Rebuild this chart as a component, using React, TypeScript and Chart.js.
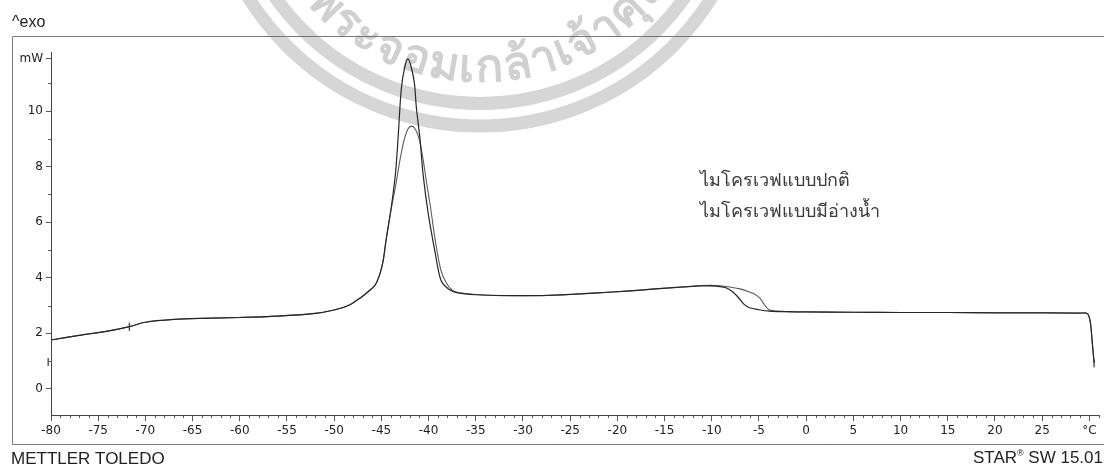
import React, { useEffect, useRef } from "react";
import { Chart, registerables } from "chart.js";

Chart.register(...registerables);

// DSC heat-flow curves (temperature in °C, heat flow in mW)
const seriesNames = ["ไมโครเวฟแบบปกติ", "ไมโครเวฟแบบมีอ่างน้ำ"];

const temperatureNormal = [
  -80, -77, -74, -71.7, -70, -67, -64, -60, -56, -52, -50, -48.5, -47.1, -46.4, -45.66, -45.14, -44.8, -44.5, -43.95,
  -43.5, -43.2, -42.9, -42.55, -42.2, -41.85, -41.5, -41.3, -40.9, -40.6, -40.05, -39.3, -38.7, -37.9, -36.9, -35, -32,
  -28, -25, -22, -19, -16, -13, -11, -9.5, -8.5, -7.8, -7.2, -6.6, -6, -5, -3.9, -2, 0, 5, 10, 15, 20, 25, 29, 29.8,
  30.1, 30.3, 30.5,
];
const heatFlowNormal = [
  1.76, 1.93, 2.08, 2.24, 2.4, 2.5, 2.54, 2.57, 2.62, 2.72, 2.84, 3.0, 3.31, 3.5, 3.74, 4.16, 4.64, 5.37, 6.55, 7.78,
  9.2, 10.77, 11.55, 11.88, 11.6, 11.0, 10.15, 8.97, 7.78, 6.34, 4.9, 3.92, 3.6, 3.46, 3.39, 3.36, 3.36, 3.4, 3.46,
  3.52, 3.6, 3.67, 3.71, 3.7, 3.64, 3.5, 3.3, 3.05, 2.92, 2.85, 2.8, 2.78, 2.77, 2.76, 2.75, 2.75, 2.74, 2.74, 2.73,
  2.71, 2.4, 1.7, 0.94,
];

const temperatureWaterBath = [
  -80, -77, -74, -71.7, -70, -67, -64, -60, -56, -52, -50, -48.5, -47.1, -46.4, -45.66, -45.14, -44.8, -44.5, -44,
  -43.5, -43, -42.6, -42.2, -41.8, -41.4, -41, -40.6, -40.2, -39.8, -39.3, -38.7, -38.1, -37.5, -36.9, -35, -32, -28,
  -25, -22, -19, -16, -13, -11, -9.5, -8.1, -7, -6, -5.4, -4.9, -4.4, -3.9, -3, -2, 0, 5, 10, 15, 20, 25, 29, 29.8,
  30.1, 30.3, 30.5,
];
const heatFlowWaterBath = [
  1.76, 1.93, 2.08, 2.24, 2.4, 2.5, 2.54, 2.57, 2.62, 2.72, 2.84, 3.0, 3.31, 3.5, 3.74, 4.16, 4.64, 5.37, 6.4, 7.3,
  8.3, 8.95, 9.35, 9.46, 9.35, 9.0, 8.3, 7.4, 6.55, 5.36, 4.28, 3.8, 3.55, 3.47, 3.4, 3.36, 3.36, 3.4, 3.46, 3.52, 3.6,
  3.67, 3.72, 3.72, 3.67, 3.6, 3.49, 3.4, 3.27, 3.02, 2.84, 2.8, 2.78, 2.77, 2.76, 2.75, 2.75, 2.74, 2.74, 2.73, 2.71,
  2.4, 1.7, 0.94,
];

// Small cross-hair marks placed on the trace
const markerTemperatures = [-71.7, -80.3, 30.5];
const markerHeatFlows = [2.24, 0.97, 0.92];

const xTickValues = [-80, -75, -70, -65, -60, -55, -50, -45, -40, -35, -30, -25, -20, -15, -10, -5, 0, 5, 10, 15, 20, 25, 30];
const yTickValues = [0, 2, 4, 6, 8, 10, 11.9];
const xMinorStep = 1;
const yMinorValues = [1, 3, 5, 7, 9, 11];

const watermarkText = "พระจอมเกล้าเจ้าคุณทหาร";

const toPoints = (xs: number[], ys: number[]) => xs.map((x, i) => ({ x, y: ys[i] }));

const splitClusters = (s: string): string[] => {
  const Seg = (Intl as any).Segmenter;
  if (Seg) {
    const seg = new Seg("th", { granularity: "grapheme" });
    return Array.from(seg.segment(s), (p: any) => p.segment as string);
  }
  return Array.from(s);
};

const decorPlugin = {
  id: "decor",
  beforeDraw(chart: any) {
    const ctx: CanvasRenderingContext2D = chart.ctx;
    ctx.save();
    // institutional seal behind the chart
    const cx = 480;
    const cy = -147;
    ctx.strokeStyle = "#d6d6d6";
    ctx.lineWidth = 13;
    ctx.beginPath();
    ctx.arc(cx, cy, 273, 0, Math.PI);
    ctx.stroke();
    ctx.beginPath();
    ctx.arc(cx, cy, 250.5, 0, Math.PI);
    ctx.stroke();

    ctx.fillStyle = "#d0d0d0";
    ctx.font = "bold 46px 'Noto Sans', sans-serif";
    ctx.textAlign = "center";
    ctx.textBaseline = "alphabetic";
    const clusters = splitClusters(watermarkText);
    const widths = clusters.map((c) => ctx.measureText(c).width);
    const centers: number[] = [];
    let acc = 0;
    widths.forEach((w) => {
      centers.push(acc + w / 2);
      acc += w;
    });
    const R = 217;
    const firstAngle = (135.6 * Math.PI) / 180;
    const lastVisible = Math.min(13, clusters.length - 1);
    const lastAngle = (46.8 * Math.PI) / 180;
    const scale = (firstAngle - lastAngle) / (centers[lastVisible] - centers[0]);
    clusters.forEach((c, i) => {
      const a = firstAngle - (centers[i] - centers[0]) * scale;
      const x = cx + R * Math.cos(a);
      const y = cy + R * Math.sin(a);
      ctx.save();
      ctx.translate(x, y);
      ctx.rotate(a - Math.PI / 2);
      ctx.fillText(c, 0, 12);
      ctx.restore();
    });
    ctx.restore();
  },
  afterDraw(chart: any) {
    const ctx: CanvasRenderingContext2D = chart.ctx;
    const xs = chart.scales.x;
    const ys = chart.scales.y;
    const area = chart.chartArea;
    ctx.save();

    // minor ticks
    ctx.strokeStyle = "#555";
    ctx.lineWidth = 1;
    ctx.beginPath();
    for (let v = -80; v <= 31; v += xMinorStep) {
      if (v % 5 === 0) continue;
      const px = Math.round(xs.getPixelForValue(v)) + 0.5;
      ctx.moveTo(px, area.bottom);
      ctx.lineTo(px, area.bottom + 3);
    }
    yMinorValues.forEach((v) => {
      const py = Math.round(ys.getPixelForValue(v)) + 0.5;
      ctx.moveTo(area.left, py);
      ctx.lineTo(area.left - 3, py);
    });
    ctx.stroke();

    // outer frame
    ctx.strokeStyle = "#777";
    ctx.beginPath();
    ctx.moveTo(1104, 36.5);
    ctx.lineTo(12.5, 36.5);
    ctx.lineTo(12.5, 444.5);
    ctx.lineTo(1104, 444.5);
    ctx.stroke();

    // header / footer text
    ctx.fillStyle = "#222";
    ctx.textBaseline = "middle";
    ctx.textAlign = "left";
    ctx.font = "16px 'Liberation Sans', Arial, sans-serif";
    ctx.fillText("^exo", 12, 23);
    ctx.font = "17px 'Liberation Sans', Arial, sans-serif";
    ctx.fillText("METTLER TOLEDO", 11, 459);

    ctx.textAlign = "right";
    const tail = " SW 15.01";
    const tailW = ctx.measureText(tail).width;
    ctx.fillText(tail, 1103, 458);
    ctx.font = "9px 'Liberation Sans', Arial, sans-serif";
    const regW = ctx.measureText("®").width;
    ctx.fillText("®", 1103 - tailW, 454);
    ctx.font = "17px 'Liberation Sans', Arial, sans-serif";
    ctx.fillText("STAR", 1103 - tailW - regW, 458);

    // series names
    ctx.textAlign = "left";
    ctx.fillStyle = "#3a3a3a";
    ctx.font = "18px serif";
    ctx.fillText(seriesNames[0], 700, 181);
    ctx.fillText(seriesNames[1], 700, 212);
    ctx.restore();
  },
};

export default function App() {
  const canvasRef = useRef<HTMLCanvasElement | null>(null);

  useEffect(() => {
    const canvas = canvasRef.current;
    if (!canvas) return;
    const tickFont = { family: "'DejaVu Sans', Verdana, sans-serif", size: 12 };
    const chart = new Chart(canvas, {
      type: "line",
      data: {
        datasets: [
          {
            label: seriesNames[0],
            data: toPoints(temperatureNormal, heatFlowNormal),
            borderColor: "#262626",
            borderWidth: 1.2,
            pointRadius: 0,
            tension: 0.3,
            fill: false,
          },
          {
            label: seriesNames[1],
            data: toPoints(temperatureWaterBath, heatFlowWaterBath),
            borderColor: "#5c5c5c",
            borderWidth: 1.1,
            pointRadius: 0,
            tension: 0.3,
            fill: false,
          },
          {
            label: "markers",
            data: toPoints(markerTemperatures, markerHeatFlows),
            showLine: false,
            pointStyle: "line",
            rotation: 90,
            pointRadius: 4,
            borderColor: "#333",
            borderWidth: 1.2,
            clip: false,
          } as any,
        ],
      },
      options: {
        responsive: false,
        animation: false,
        layout: { padding: { left: 0, right: 0, top: 52, bottom: 0 } },
        plugins: { legend: { display: false }, tooltip: { enabled: false } },
        scales: {
          x: {
            type: "linear",
            min: -80,
            max: 31,
            afterBuildTicks: (axis: any) => {
              axis.ticks = xTickValues.map((value) => ({ value }));
            },
            afterFit: (axis: any) => {
              axis.height = 53;
            },
            ticks: {
              autoSkip: false,
              maxRotation: 0,
              padding: 3,
              color: "#222",
              font: tickFont,
              callback: (v: any) => (Number(v) === 30 ? "°C" : String(v)),
            },
            grid: { drawOnChartArea: false, drawTicks: true, tickLength: 6, tickColor: "#555" },
            border: { display: true, color: "#444", width: 1 },
          },
          y: {
            type: "linear",
            min: -0.94,
            max: 12.13,
            afterBuildTicks: (axis: any) => {
              axis.ticks = yTickValues.map((value) => ({ value }));
            },
            afterFit: (axis: any) => {
              axis.width = 51;
            },
            ticks: {
              padding: 3,
              color: "#222",
              font: tickFont,
              callback: (v: any) => (Number(v) > 11 ? "mW" : String(v)),
            },
            grid: { drawOnChartArea: false, drawTicks: true, tickLength: 5, tickColor: "#555" },
            border: { display: true, color: "#444", width: 1 },
          },
        },
      },
      plugins: [decorPlugin],
    });
    return () => chart.destroy();
  }, []);

  return (
    <div style={{ position: "absolute", left: 0, top: 0, width: 1104, height: 468, background: "#fff" }}>
      <canvas ref={canvasRef} width={1104} height={468} style={{ display: "block", width: 1104, height: 468 }} />
    </div>
  );
}
